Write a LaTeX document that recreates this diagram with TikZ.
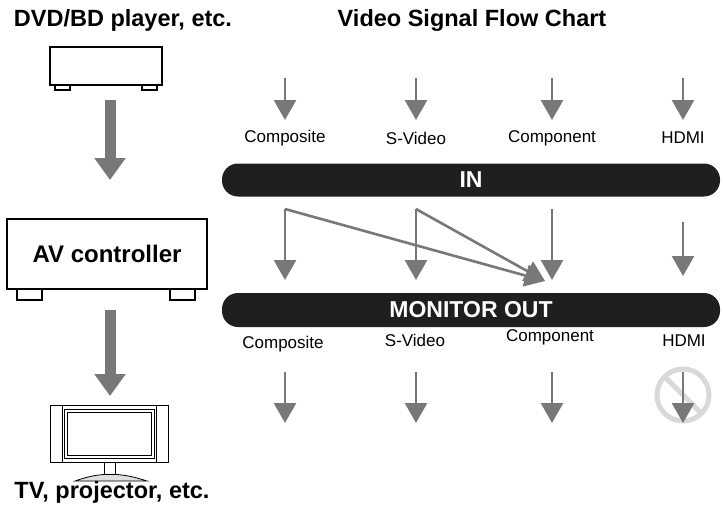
\documentclass[tikz,border=0pt]{standalone}
\usepackage{fontspec}
\setmainfont{Liberation Sans}
\usetikzlibrary{arrows.meta}
\definecolor{ag}{RGB}{120,120,120}
\begin{document}
\begin{tikzpicture}[x=1pt,y=-1pt,
 sa/.style={draw=ag,line width=2.6pt,-{Triangle[width=22pt,length=20pt]}},
 ba/.style={draw=ag,line width=11pt,-{Triangle[width=30pt,length=22pt]}},
 bar/.style={fill=black!88,rounded corners=16pt},
 lab/.style={font=\fontsize{17}{19}\selectfont},
 dev/.style={draw=black,line width=1.5pt,fill=white}]
\useasboundingbox (0,0) rectangle (723,504);
\node[font=\bfseries\fontsize{23.5}{26}\selectfont] (t1) at (123,20) {DVD/BD player, etc.};
\node[font=\bfseries\fontsize{23.5}{26}\selectfont] (t2) at (472,20) {Video Signal Flow Chart};
% DVD player
\draw[dev] (55,84) rectangle (70,90);
\draw[dev] (142,84) rectangle (157,90);
\draw[dev] (50,47) rectangle (162,85);
\coordinate (d1) at (110,100);
\coordinate (d2) at (110,180);
\draw[ba] (d1) -- (d2);
% AV controller
\draw[dev] (17,288) rectangle (42,300);
\draw[dev] (170,288) rectangle (195,300);
\node[dev,line width=2pt,minimum width=200pt,minimum height=70pt,font=\bfseries\fontsize{24}{28}\selectfont] (av) at (107,254) {AV controller};
\coordinate (d3) at (110,310);
\coordinate (d4) at (110,396);
\draw[ba] (d3) -- (d4);
% TV
\draw[draw=black,line width=0.8pt,fill=gray!25] (75,481) .. controls (100,472) and (120,472) .. (147,481) -- cycle;
\draw[dev,line width=0.8pt] (104,462) rectangle (115,474);
\draw[dev,line width=0.8pt] (50,405) rectangle (168,462);
\draw[line width=0.8pt] (62,405) -- (62,462) (156,405) -- (156,462);
\draw[line width=0.8pt] (64,409) rectangle (154,458);
\draw[line width=0.8pt] (67,412) rectangle (151,455);
\node[font=\bfseries\fontsize{23.5}{26}\selectfont] (t3) at (112,492) {TV, projector, etc.};
% bars
\node[bar,minimum width=498pt,minimum height=33pt,text=white,font=\bfseries\fontsize{23}{26}\selectfont] (in) at (471,180) {IN};
\node[bar,minimum width=498pt,minimum height=34pt,text=white,font=\bfseries\fontsize{23}{26}\selectfont] (mo) at (471,310) {MONITOR OUT};
% top arrows and labels
\foreach \n/\x/\t in {a/285/Composite,b/416/S-Video,c/552/Component,d/683/HDMI}{
  \coordinate (ti\n) at (\x,78); \coordinate (tj\n) at (\x,120);
  \draw[sa] (ti\n) -- (tj\n);
  \node[lab] (l\n) at (\x,138) {\t};
}
% middle
\foreach \n/\x in {a/285,b/416,c/552}{
  \coordinate (mi\n) at (\x,209); \coordinate (mj\n) at (\x,280);
  \draw[sa] (mi\n) -- (mj\n);
}
\coordinate (mid) at (683,222); \coordinate (mjd) at (683,276);
\draw[sa] (mid) -- (mjd);
\coordinate (tgt) at (545,281);
\draw[sa] (mia) -- (tgt);
\draw[sa] (mib) -- (tgt);
% out labels
\node[lab] (oa) at (283,344) {Composite};
\node[lab] (ob) at (415,340) {S-Video};
\node[lab] (oc) at (550,337) {Component};
\node[lab] (od) at (684,341) {HDMI};
% bottom arrows
\foreach \n/\x in {a/285,b/416,c/552,d/683}{
  \coordinate (bi\n) at (\x,372); \coordinate (bj\n) at (\x,423);
}
\draw[gray!30,line width=5pt] (683,395) circle (26);
\draw[gray!30,line width=5pt] (664,376) -- (702,414);
\foreach \n in {a,b,c,d}{\draw[sa] (bi\n) -- (bj\n);}
\end{tikzpicture}
\end{document}
